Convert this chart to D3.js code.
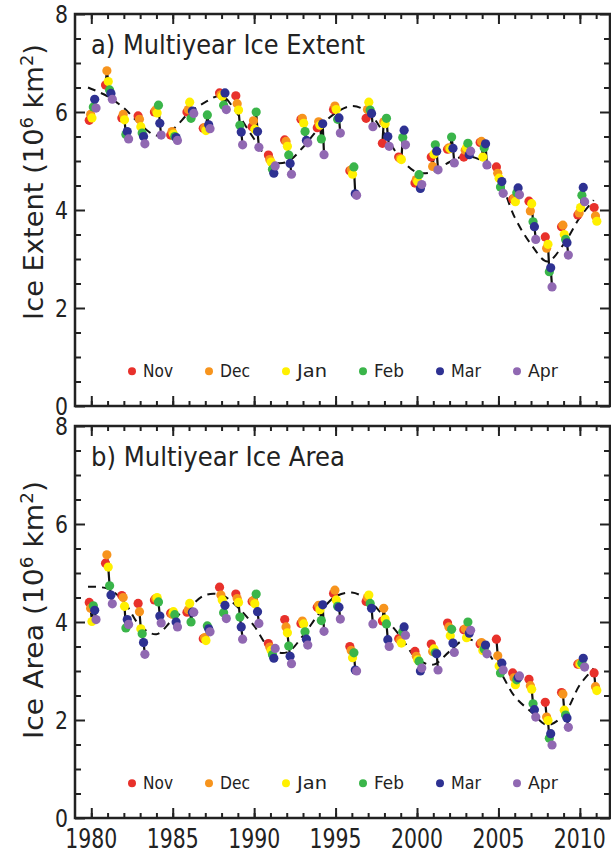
<!DOCTYPE html>
<html>
<head>
<meta charset="utf-8">
<script src="https://cdn.jsdelivr.net/npm/d3@7"></script>
<style>
body { margin: 0; background: #fff; }
text { font-family: "DejaVu Sans", sans-serif; fill: #222; }
</style>
</head>
<body>
<div id="viz"></div>
<script>
// winters, labelled by the Jan-Apr year (Nov/Dec belong to the year before)
var years = [1980, 1981, 1982, 1983, 1984, 1985, 1986, 1987, 1988, 1989, 1990, 1991, 1992, 1993, 1994, 1995,
    1996, 1997, 1998, 1999, 2000, 2001, 2002, 2003, 2004, 2005, 2006, 2007, 2008, 2009, 2010, 2011];
var months = ['Nov', 'Dec', 'Jan', 'Feb', 'Mar', 'Apr'];
var monthColors = ['#e8312b', '#f7941d', '#fff000', '#3ab54a', '#2e3192', '#9068b2'];

// multiyear ice extent (10^6 km^2)
var extentNov = [5.83, 6.55, 5.88, 5.92, 6.00, 5.53, 6.00, 5.67, 6.39, 6.33, 5.70, 5.12, 5.43, 5.85, 5.68, 6.05,
    4.80, 5.87, 5.36, 5.08, 4.55, 5.08, 5.24, 5.08, 5.38, 4.88, 4.22, 4.18, 3.45, 3.66, 3.90, 4.05];
var extentDec = [5.95, 6.84, 5.95, 5.85, 6.04, 5.60, 6.05, 5.68, 6.35, 6.17, 5.82, 5.03, 5.40, 5.87, 5.80, 6.12,
    4.82, 6.05, 5.80, 5.05, 4.62, 4.89, 5.27, 5.22, 5.40, 4.75, 4.24, 3.98, 3.22, 3.69, 3.94, 3.88];
var extentJan = [5.88, 6.62, 5.84, 5.70, 5.98, 5.55, 6.20, 5.62, 6.32, 6.04, 5.65, 4.98, 5.30, 5.77, 5.73, 6.05,
    4.73, 6.20, 5.76, 5.03, 4.58, 5.14, 5.25, 5.27, 5.08, 4.65, 4.17, 4.13, 3.30, 3.50, 4.05, 3.77];
var extentFeb = [6.10, 6.45, 5.54, 5.57, 6.14, 5.50, 5.87, 5.94, 6.14, 5.73, 6.00, 4.83, 5.12, 5.60, 5.45, 5.85,
    4.88, 6.04, 5.87, 5.48, 4.72, 5.33, 5.49, 5.36, 5.27, 4.47, 4.35, 3.76, 2.74, 3.40, 4.30, null];
var extentMar = [6.26, 6.38, 5.60, 5.50, 5.77, 5.48, 6.02, 5.74, 6.39, 5.59, 5.60, 4.75, 4.95, 5.42, 5.76, 5.88,
    4.33, 5.97, 5.50, 5.63, 4.44, 5.20, 5.26, 5.13, 5.35, 4.58, 4.45, 3.66, 2.82, 3.33, 4.46, null];
var extentApr = [6.08, 6.26, 5.45, 5.35, 5.53, 5.42, 5.97, 5.66, 6.05, 5.33, 5.28, 4.90, 4.73, 5.37, 5.13, 5.57,
    4.30, 5.70, 5.30, 5.33, 4.52, 4.82, 4.96, 5.20, 4.92, 4.34, 4.31, 3.40, 2.43, 3.08, 4.17, null];

// multiyear ice area (10^6 km^2)
var areaNov = [4.40, 5.20, 4.54, 4.38, 4.45, 4.18, 4.20, 3.66, 4.71, 4.57, 4.42, 3.56, 4.05, 3.97, 4.30, 4.58,
    3.50, 4.42, 4.02, 3.66, 3.40, 3.55, 3.98, 3.84, 3.55, 3.65, 2.96, 2.83, 2.36, 2.56, 3.14, 2.96];
var areaDec = [4.28, 5.37, 4.50, 4.21, 4.48, 4.16, 4.25, 3.68, 4.55, 4.48, 4.44, 3.49, 3.90, 4.02, 4.34, 4.65,
    3.42, 4.50, 4.28, 3.63, 3.30, 3.40, 3.90, 3.86, 3.58, 3.31, 2.86, 2.70, 2.06, 2.53, 3.15, 2.68];
var areaJan = [4.01, 5.12, 4.32, 3.86, 4.50, 4.21, 4.38, 3.62, 4.45, 4.40, 4.37, 3.42, 3.78, 3.96, 4.25, 4.45,
    3.27, 4.55, 4.06, 3.57, 3.23, 3.45, 3.72, 3.68, 3.42, 3.10, 2.72, 2.63, 1.99, 2.20, 3.14, 2.60];
var areaFeb = [4.33, 4.74, 3.88, 3.76, 4.41, 4.15, 4.00, 3.92, 4.19, 4.10, 4.57, 3.33, 3.51, 3.80, 4.03, 4.32,
    3.37, 4.38, 3.96, 3.80, 3.20, 3.37, 3.85, 4.00, 3.45, 2.96, 2.82, 2.33, 1.63, 2.10, 3.16, null];
var areaMar = [4.24, 4.55, 4.05, 3.58, 4.12, 4.00, 4.20, 3.86, 4.34, 3.90, 4.21, 3.26, 3.30, 3.65, 4.35, 4.30,
    3.02, 4.28, 3.64, 3.90, 3.00, 3.35, 3.57, 3.77, 3.53, 3.16, 2.86, 2.21, 1.72, 2.04, 3.26, null];
var areaApr = [4.05, 4.37, 3.95, 3.34, 3.98, 3.90, 4.20, 3.80, 4.07, 3.65, 3.97, 3.46, 3.15, 3.53, 3.81, 4.06,
    3.00, 3.96, 3.50, 3.73, 3.06, 3.02, 3.38, 3.83, 3.35, 3.02, 2.90, 2.06, 1.49, 1.85, 3.08, null];

// smoothed (dashed) curves
var trendYears = [1979.8, 1981, 1982, 1983, 1984, 1985, 1986, 1987, 1988, 1989, 1990, 1991, 1992, 1993, 1994, 1995,
    1996, 1997, 1998, 1999, 2000, 2001, 2002, 2003, 2004, 2005, 2006, 2007, 2008, 2009, 2010, 2010.85];
var extentTrend = [6.50, 6.32, 6.08, 5.75, 5.52, 5.65, 5.98, 6.20, 6.33, 5.95, 5.45, 5.00, 4.98, 5.28, 5.68, 5.98,
    6.12, 6.00, 5.55, 5.05, 4.77, 4.78, 4.98, 5.10, 5.00, 4.65, 3.85, 3.30, 2.95, 3.30, 3.85, 4.20];
var areaTrend = [4.72, 4.68, 4.42, 3.92, 3.75, 4.05, 4.30, 4.55, 4.55, 4.30, 3.92, 3.45, 3.38, 3.72, 4.18, 4.52,
    4.60, 4.45, 4.10, 3.70, 3.25, 3.13, 3.40, 3.65, 3.50, 3.05, 2.48, 2.17, 1.90, 2.10, 2.72, 3.05];

var xTicks = [1980, 1985, 1990, 1995, 2000, 2005, 2010];
var yTicks = [0, 2, 4, 6, 8];

var width = 611, height = 855;
var left = 75, right = 610;

var svg = d3.select('#viz').append('svg')
    .attr('width', width)
    .attr('height', height);

var x = d3.scaleLinear()
    .domain([1979, 2011.85])
    .range([left, right]);

var panels = [
    {top: 14, bottom: 406, title: 'a) Multiyear Ice Extent', titleW: 274, ylab: 'Ice Extent', ylabW: 276, ylabC: 182,
        series: [extentNov, extentDec, extentJan, extentFeb, extentMar, extentApr], trend: extentTrend},
    {top: 426, bottom: 818, title: 'b) Multiyear Ice Area', titleW: 254, ylab: 'Ice Area', ylabW: 258, ylabC: 610,
        series: [areaNov, areaDec, areaJan, areaFeb, areaMar, areaApr], trend: areaTrend}
];

// squeeze a text horizontally to a given length (the original font is tall and narrow)
function squeeze(t, w) {
    var n = t.node().getComputedTextLength();
    t.attr('transform', t.attr('transform') + ' scale(' + (w / n) + ',1)');
    return t;
}

var minorYears = years.slice();
var minorY = [0.5, 1, 1.5, 2.5, 3, 3.5, 4.5, 5, 5.5, 6.5, 7, 7.5];

panels.forEach(function(p, pi) {
    var y = d3.scaleLinear()
        .domain([0, 8])
        .range([p.bottom, p.top]);

    var g = svg.append('g').attr('class', 'panel');

    // ticks, all pointing inward
    function tickAxis(axis, tr, vals, size) {
        var a = g.append('g')
            .attr('transform', tr)
            .call(axis.tickValues(vals).tickSize(-size).tickFormat(''));
        a.select('.domain').remove();
        a.selectAll('line').attr('stroke', '#222').attr('stroke-width', 2);
    }
    tickAxis(d3.axisBottom(x), 'translate(0,' + p.bottom + ')', minorYears, 5);
    tickAxis(d3.axisBottom(x), 'translate(0,' + p.bottom + ')', xTicks, 10);
    tickAxis(d3.axisTop(x), 'translate(0,' + p.top + ')', minorYears, 5);
    tickAxis(d3.axisTop(x), 'translate(0,' + p.top + ')', xTicks, 10);
    tickAxis(d3.axisLeft(y), 'translate(' + left + ',0)', minorY, 6);
    tickAxis(d3.axisLeft(y), 'translate(' + left + ',0)', yTicks, 10);
    tickAxis(d3.axisRight(y), 'translate(' + right + ',0)', minorY, 6);
    tickAxis(d3.axisRight(y), 'translate(' + right + ',0)', yTicks, 10);

    g.append('rect')
        .attr('x', left).attr('y', p.top)
        .attr('width', right - left).attr('height', p.bottom - p.top)
        .attr('fill', 'none')
        .attr('stroke', '#222')
        .attr('stroke-width', 2.5);

    // y tick labels
    yTicks.forEach(function(v) {
        var t = g.append('text')
            .attr('transform', 'translate(' + (left - 7) + ',' + (y(v) + 9) + ')')
            .attr('text-anchor', 'end')
            .style('font-size', '25px')
            .text(v);
        squeeze(t, 13);
    });

    // x tick labels only under the lower panel
    if (pi === 1) {
        xTicks.forEach(function(v) {
            var t = g.append('text')
                .attr('transform', 'translate(' + x(v) + ',848)')
                .attr('text-anchor', 'middle')
                .style('font-size', '26px')
                .text(v);
            squeeze(t, 52);
        });
    }

    // y axis title with superscripts
    var yl = g.append('text')
        .attr('transform', 'translate(43,' + p.ylabC + ') rotate(-90)')
        .attr('text-anchor', 'middle')
        .style('font-size', '26px');
    yl.append('tspan').text(p.ylab + ' (10');
    yl.append('tspan').attr('dy', -10).style('font-size', '17px').text('6');
    yl.append('tspan').attr('dy', 10).text(' km');
    yl.append('tspan').attr('dy', -10).style('font-size', '17px').text('2');
    yl.append('tspan').attr('dy', 10).text(')');
    squeeze(yl, p.ylabW);

    var title = g.append('text')
        .attr('transform', 'translate(91,' + (p.top + 40) + ')')
        .style('font-size', '27px')
        .text(p.title);
    squeeze(title, p.titleW);

    // dashed smooth curve
    var trendLine = d3.line()
        .x(function(d, i) { return x(trendYears[i]); })
        .y(function(d) { return y(d); })
        .curve(d3.curveCatmullRom);
    g.append('path')
        .datum(p.trend)
        .attr('d', trendLine)
        .attr('fill', 'none')
        .attr('stroke', '#111')
        .attr('stroke-width', 2)
        .attr('stroke-dasharray', '8,6');

    // one group per winter: Nov..Apr joined by a black line
    var winters = years.map(function(yr, i) {
        return months.map(function(m, j) {
            return {t: yr + (j - 1.5) / 12, v: p.series[j][i], c: monthColors[j]};
        }).filter(function(d) { return d.v != null; });
    });

    var seg = d3.line()
        .x(function(d) { return x(d.t); })
        .y(function(d) { return y(d.v); });

    g.append('g').selectAll('path')
        .data(winters)
        .enter().append('path')
        .attr('d', seg)
        .attr('fill', 'none')
        .attr('stroke', '#111')
        .attr('stroke-width', 2.2);

    g.append('g').selectAll('g')
        .data(winters)
        .enter().append('g')
        .selectAll('circle')
        .data(function(d) { return d; })
        .enter().append('circle')
        .attr('cx', function(d) { return x(d.t); })
        .attr('cy', function(d) { return y(d.v); })
        .attr('r', 4.6)
        .attr('fill', function(d) { return d.c; });

    // legend
    var lx = d3.scaleLinear().domain([0, 5]).range([132, 517]);
    months.forEach(function(m, j) {
        g.append('circle')
            .attr('cx', lx(j))
            .attr('cy', y(0.71))
            .attr('r', 4)
            .attr('fill', monthColors[j]);
        var t = g.append('text')
            .attr('transform', 'translate(' + (lx(j) + 11) + ',' + (y(0.71) + 6) + ')')
            .style('font-size', '17px')
            .text(m);
        squeeze(t, m.length * 10);
    });
});
</script>
</body>
</html>
